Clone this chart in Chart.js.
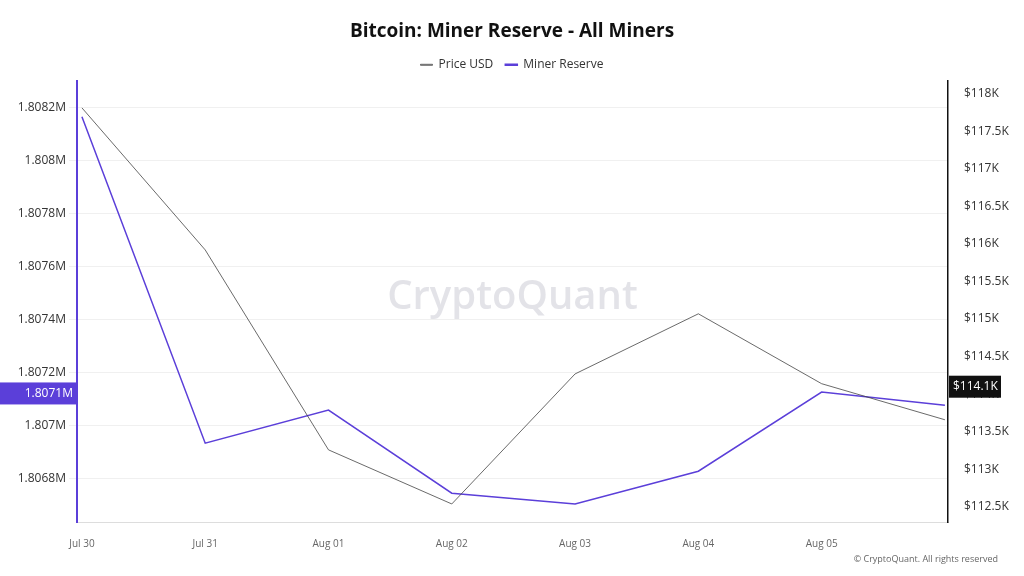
<!DOCTYPE html>
<html><head><meta charset="utf-8">
<script src="https://cdn.jsdelivr.net/npm/chart.js@4"></script>
<style>html,body{margin:0;background:#fff;}#w{width:1024px;height:576px;position:relative;}</style>
</head><body><div id="w"><canvas id="c" width="1024" height="576"></canvas></div>
<script>
const categories=['Jul 30','Jul 31','Aug 01','Aug 02','Aug 03','Aug 04','Aug 05',''];
const minerReserve=[1.808166,1.806932,1.807057,1.806743,1.806702,1.806826,1.807125,1.807075];
const priceUSD=[117810,115920,113260,112540,114270,115070,114140,113660];
const leftTicks=[1.8068,1.807,1.8072,1.8074,1.8076,1.8078,1.808,1.8082];
const rightTicks=[112500,113000,113500,114000,114500,115000,115500,116000,116500,117000,117500,118000];
const F='"Open Sans", sans-serif';
const pts=a=>a.map((v,i)=>({x:i,y:v}));
const extras={id:'extras',
 beforeDatasetsDraw(ch){const c=ch.ctx,a=ch.chartArea;c.save();c.font='600 40px '+F;c.fillStyle='rgba(200,200,210,0.5)';c.textAlign='center';c.textBaseline='middle';c.fillText('CryptoQuant',(a.left+a.right)/2,298);c.restore();},
 afterDraw(ch){const c=ch.ctx;c.save();
  const yl=ch.scales.y.getPixelForValue(1.80712), yr=ch.scales.y1.getPixelForValue(114100);
  c.fillStyle='#5b3fd9';c.fillRect(0,yl-11,77,22);c.fillStyle='#fff';c.font='12px '+F;c.textAlign='right';c.textBaseline='middle';c.fillText('1.8071M',73,yl);
  c.fillStyle='#111';c.fillRect(949,yr-11,52,22);c.fillStyle='#fff';c.textAlign='left';c.fillText('$114.1K',953,yr);
  c.fillStyle='#666';c.font='9px '+F;c.textAlign='right';c.fillText('© CryptoQuant. All rights reserved',998,559);
  c.restore();}};
new Chart(document.getElementById('c'),{type:'line',
 data:{datasets:[
  {label:'Price USD',data:pts(priceUSD),yAxisID:'y1',borderColor:'#444',borderWidth:0.8,pointRadius:0,tension:0},
  {label:'Miner Reserve',data:pts(minerReserve),yAxisID:'y',borderColor:'#5b3fd9',borderWidth:1.5,pointRadius:0,tension:0}]},
 options:{responsive:false,animation:false,
  layout:{padding:{top:0,left:0,right:0,bottom:18}},
  plugins:{title:{display:true,text:'Bitcoin: Miner Reserve - All Miners',font:{family:F,size:19,weight:'bold'},color:'#111',padding:{top:20,bottom:4}},
   legend:{labels:{font:{family:F,size:12},color:'#333',boxWidth:12,boxHeight:1,padding:12}},tooltip:{enabled:false}},
  scales:{
   x:{type:'linear',min:-0.04,max:7.025,grid:{display:false},border:{color:'#ddd'},
      afterBuildTicks(s){s.ticks=categories.map((c,i)=>({value:i}));},
      ticks:{font:{family:F,size:10},color:'#666',maxRotation:0,padding:8,callback:v=>categories[v]??''}},
   y:{position:'left',min:1.806634,max:1.808302,afterFit(s){s.width=77;},afterBuildTicks(s){s.ticks=leftTicks.map(v=>({value:v}));},
      grid:{color:'#f0f0f0'},border:{color:'#5b3fd9',width:2},
      ticks:{font:{family:F,size:12},color:'#333',callback:v=>(+v.toFixed(4))+'M'}},
   y1:{position:'right',min:112300,max:118170,afterFit(s){s.width=76;},afterBuildTicks(s){s.ticks=rightTicks.map(v=>({value:v}));},
      grid:{display:false},border:{color:'#111',width:1.5},
      ticks:{font:{family:F,size:12},color:'#333',padding:8,callback:v=>'$'+(v/1000)+'K'}}}},
 plugins:[extras]});
</script></body></html>
